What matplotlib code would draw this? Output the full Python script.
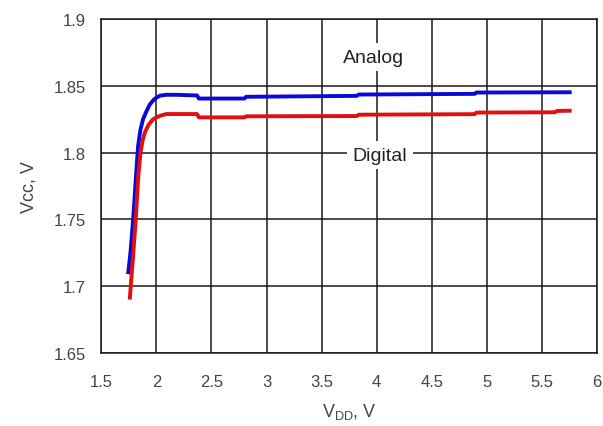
import numpy as np
import matplotlib
matplotlib.use('Agg')
import matplotlib.pyplot as plt

# Analog supply (blue)
vdd_analog = [1.743, 1.765, 1.789, 1.813, 1.834, 1.855, 1.879, 1.91, 1.94, 1.98, 2.03,
              2.09, 2.18, 2.37, 2.385, 2.80, 2.815, 3.82, 3.835, 4.89, 4.905, 5.77]
vcc_analog = [1.709, 1.7254, 1.750, 1.780, 1.805, 1.817, 1.825, 1.831, 1.836, 1.840, 1.8426,
              1.8433, 1.8433, 1.8428, 1.8405, 1.8405, 1.8418, 1.8425, 1.8435, 1.8440, 1.8450, 1.8452]

# Digital supply (red)
vdd_digital = [1.758, 1.782, 1.813, 1.834, 1.856, 1.875, 1.895, 1.93, 1.97, 2.03, 2.09,
               2.37, 2.385, 2.80, 2.815, 3.82, 3.835, 4.89, 4.905, 5.62, 5.635, 5.77]
vcc_digital = [1.690, 1.7153, 1.750, 1.780, 1.800, 1.809, 1.815, 1.821, 1.825, 1.8275, 1.8289,
               1.8289, 1.8264, 1.8264, 1.8272, 1.8274, 1.8284, 1.8288, 1.8300, 1.8302, 1.8312, 1.8314]

xticks = [1.5, 2, 2.5, 3, 3.5, 4, 4.5, 5, 5.5, 6]
xticklabels = ['1.5', '2', '2.5', '3', '3.5', '4', '4.5', '5', '5.5', '6']
yticks = [1.65, 1.7, 1.75, 1.8, 1.85, 1.9]
yticklabels = ['1.65', '1.7', '1.75', '1.8', '1.85', '1.9']

plt.rcParams['font.family'] = ['Liberation Sans', 'DejaVu Sans']
plt.rcParams['mathtext.fontset'] = 'custom'
plt.rcParams['mathtext.rm'] = 'Liberation Sans'

fig = plt.figure(figsize=(6.03, 4.27), dpi=100)
ax = fig.add_axes([0.168, 0.171, 0.822, 0.782])

ax.plot(vdd_analog, vcc_analog, color='#0a0ad8', lw=2.8, solid_capstyle='butt', zorder=3)
ax.plot(vdd_digital, vcc_digital, color='#e01010', lw=2.8, solid_capstyle='butt', zorder=3)

ax.set_xlim(1.5, 6)
ax.set_ylim(1.65, 1.9)
ax.set_xticks(xticks)
ax.set_xticklabels(xticklabels)
ax.set_yticks(yticks)
ax.set_yticklabels(yticklabels)
ax.tick_params(axis='both', length=0, labelsize=12, labelcolor='#444444')
ax.tick_params(axis='x', pad=15)
ax.tick_params(axis='y', pad=11)
ax.grid(True, color='#1a1a1a', lw=1.1)
ax.set_axisbelow(True)
for sp in ax.spines.values():
    sp.set_color('#1a1a1a')
    sp.set_linewidth(1.1)

bbox = dict(facecolor='white', edgecolor='none', pad=4)
ax.text(3.97, 1.8716, 'Analog', ha='center', va='center', fontsize=14,
        color='#222222', bbox=bbox, zorder=4)
ax.text(4.03, 1.798, 'Digital', ha='center', va='center', fontsize=14,
        color='#222222', bbox=bbox, zorder=4)

ax.set_xlabel(r'V$_{\mathregular{DD}}$, V', fontsize=13, color='#444444', labelpad=9)
ax.set_ylabel('Vcc, V', fontsize=13, color='#444444', labelpad=12)

fig.savefig('out.png', dpi=100)
